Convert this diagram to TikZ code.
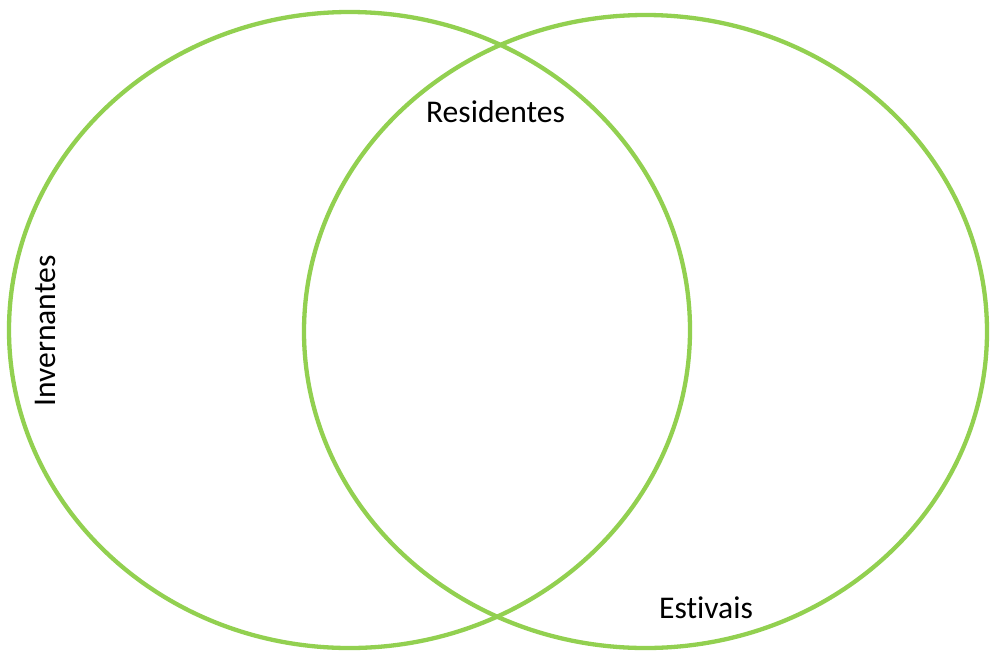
\documentclass[tikz,border=0pt]{standalone}
\usepackage{fontspec}
\setmainfont{Carlito}[Ligatures=NoCommon]
\usepackage{tikz}
\definecolor{xanhla}{RGB}{146,208,80}
\tikzset{vong/.style={draw=xanhla,line width=4.3pt},
	nhan/.style={font=\fontsize{31.6}{36}\selectfont,inner sep=0pt}}
\begin{document}
\begin{tikzpicture}[x=1pt,y=-1pt]
			\useasboundingbox (0,0) rectangle (990,651);
			\draw [vong] (349.5,330) ellipse (340.5 and 318);
			\draw [vong] (645.5,331.5) ellipse (341.5 and 316.5);
			\node [nhan] (res) at (495.5,112) {Residentes};
			\node [nhan,rotate=90] (inv) at (45,331) {Invernantes};
			\node [nhan] (est) at (706,608) {Estivais};
		\end{tikzpicture}
\end{document}
